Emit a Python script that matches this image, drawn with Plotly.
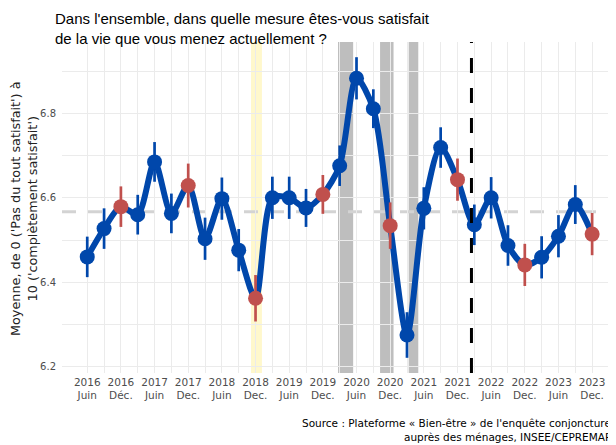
import plotly.graph_objects as go

# Quarterly survey waves, June 2016 to December 2023
periods = ["2016-06", "2016-09", "2016-12",
           "2017-03", "2017-06", "2017-09", "2017-12",
           "2018-03", "2018-06", "2018-09", "2018-12",
           "2019-03", "2019-06", "2019-09", "2019-12",
           "2020-03", "2020-06", "2020-09", "2020-12",
           "2021-03", "2021-06", "2021-09", "2021-12",
           "2022-03", "2022-06", "2022-09", "2022-12",
           "2023-03", "2023-06", "2023-09", "2023-12"]
mean_values = [6.46, 6.527, 6.579,
               6.56, 6.685, 6.563, 6.629,
               6.503, 6.598, 6.476, 6.362,
               6.60, 6.60, 6.576, 6.608,
               6.676, 6.883, 6.811, 6.534,
               6.275, 6.575, 6.719, 6.643,
               6.536, 6.60, 6.487, 6.441,
               6.459, 6.509, 6.584, 6.514]
ci_half = [0.048, 0.048, 0.048,
           0.047, 0.047, 0.047, 0.052,
           0.05, 0.05, 0.05, 0.055,
           0.05, 0.05, 0.045, 0.046,
           0.048, 0.05, 0.046, 0.055,
           0.054, 0.05, 0.048, 0.05,
           0.048, 0.049, 0.048, 0.05,
           0.05, 0.05, 0.046, 0.05]
overall_mean = 6.567

tick_labels = ["2016<br>Juin", "2016<br>Déc.", "2017<br>Juin", "2017<br>Dec.",
               "2018<br>Juin", "2018<br>Dec.", "2019<br>Juin", "2019<br>Dec.",
               "2020<br>Juin", "2020<br>Dec.", "2021<br>Juin", "2021<br>Dec.",
               "2022<br>Juin", "2022<br>Dec.", "2023<br>Juin", "2023<br>Dec."]

# events, in quarter-index units (0 = June 2016)
yellow_band = (9.73, 10.38)            # gilets jaunes
gray_bands = [(14.9, 15.8), (17.4, 18.2), (19.1, 19.67)]  # confinements
dashed_event = 22.83

x = list(range(len(periods)))
is_dec = [p.endswith("-12") for p in periods]
BLUE = "#0047AB"
RED = "#C0504D"
FONT = "Liberation Sans, Arial, sans-serif"
FONT_W = "DejaVu Sans, Verdana, sans-serif"

fig = go.Figure()

fig.add_trace(go.Scatter(x=x, y=mean_values, mode="lines",
                         line=dict(color=BLUE, width=6, shape="spline", smoothing=0.8),
                         hoverinfo="skip", showlegend=False))
bx = [xi for xi, d in zip(x, is_dec) if not d]
by = [v for v, d in zip(mean_values, is_dec) if not d]
be = [e for e, d in zip(ci_half, is_dec) if not d]
fig.add_trace(go.Scatter(x=bx, y=by, mode="markers",
                         marker=dict(color=BLUE, size=15),
                         error_y=dict(type="data", array=be, color=BLUE, thickness=2.7, width=0),
                         showlegend=False))
rx = [xi for xi, d in zip(x, is_dec) if d]
ry = [v for v, d in zip(mean_values, is_dec) if d]
re_ = [e for e, d in zip(ci_half, is_dec) if d]
fig.add_trace(go.Scatter(x=rx, y=ry, mode="markers",
                         marker=dict(color=RED, size=15),
                         error_y=dict(type="data", array=re_, color=RED, thickness=2.7, width=0),
                         showlegend=False))

shapes = []
shapes.append(dict(type="rect", xref="x", yref="paper", x0=yellow_band[0], x1=yellow_band[1],
                   y0=0, y1=1, fillcolor="#FFF8CC", line=dict(width=0), layer="between"))
for a, b in gray_bands:
    shapes.append(dict(type="rect", xref="x", yref="paper", x0=a, x1=b, y0=0, y1=1,
                       fillcolor="#BEBEBE", line=dict(width=0), layer="between"))
shapes.append(dict(type="line", xref="paper", yref="y", x0=0, x1=1, y0=overall_mean, y1=overall_mean,
                   line=dict(color="#D3D3D3", width=3, dash="14px,12px"), layer="between"))
shapes.append(dict(type="line", xref="x", yref="paper", x0=dashed_event, x1=dashed_event, y0=0, y1=1,
                   line=dict(color="black", width=3, dash="15px,15px"), layer="above"))

y_ticks = [6.2, 6.3, 6.4, 6.5, 6.6, 6.7, 6.8, 6.9]
y_text = ["6.2", "", "6.4", "", "6.6", "", "6.8", ""]
x_text = [tick_labels[i // 2] if i % 2 == 0 else "" for i in x]

source_lines = ["Source : Plateforme « Bien-être » de l'enquête conjoncture",
                "auprès des ménages, INSEE/CEPREMAP"]

# page body has an 8px margin, so the figure is 8px smaller than the window
fig.update_layout(
    width=608, height=437,
    margin=dict(l=54, r=2, t=34, b=72),
    paper_bgcolor="white", plot_bgcolor="white",
    font=dict(family=FONT, color="#4D4D4D", size=11),
    shapes=shapes,
    xaxis=dict(range=[-1.5, 31.3], tickvals=x, ticktext=x_text, showgrid=True, automargin=False,
               gridcolor="#EBEBEB", gridwidth=1, zeroline=False, showline=False, ticks="",
               tickfont=dict(family=FONT_W, size=10.5, color="#4D4D4D"), tickangle=0,
               ticklabelstandoff=1),
    yaxis=dict(range=[6.185, 6.969], tickvals=y_ticks, ticktext=y_text, showgrid=True, automargin=False,
               gridcolor="#EBEBEB", gridwidth=1, zeroline=False, showline=False, ticks="",
               tickfont=dict(family=FONT_W, size=10, color="#4D4D4D"), ticklabelstandoff=5),
    annotations=[
        dict(text="Dans l'ensemble, dans quelle mesure êtes-vous satisfait<br>de la vie que vous menez actuellement ?",
             xref="paper", yref="paper", x=-0.0163, y=1.103, xanchor="left", yanchor="top",
             align="left", showarrow=False, font=dict(family=FONT, size=15, color="black")),
        dict(text="Moyenne, de 0 ('Pas du tout satisfait') à<br>10 ('complètement satisfait')",
             xref="paper", yref="paper", x=-0.0688, y=0.4955, xanchor="center", yanchor="middle",
             textangle=-90, align="center", showarrow=False,
             font=dict(family=FONT_W, size=12.8, color="#222222")),
        dict(text=source_lines[0], borderpad=0,
             xref="paper", yref="paper", x=0.996, y=-0.1737, xanchor="right", yanchor="bottom",
             align="right", showarrow=False, font=dict(family=FONT_W, size=10.5, color="black")),
        dict(text=source_lines[1], borderpad=0,
             xref="paper", yref="paper", x=0.996, y=-0.216, xanchor="right", yanchor="bottom",
             align="right", showarrow=False, font=dict(family=FONT_W, size=10.5, color="black")),
    ],
)

fig.write_html("out.html")
